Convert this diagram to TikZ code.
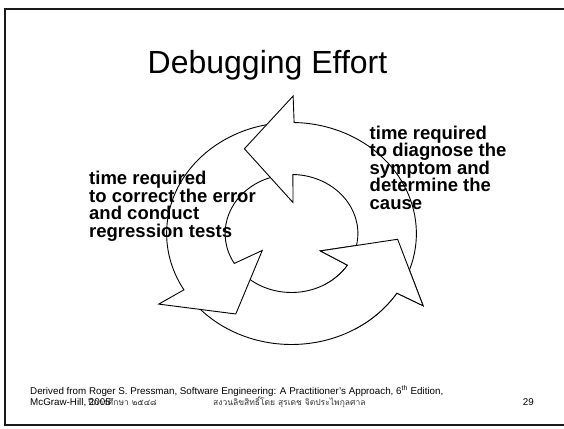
\documentclass[tikz,border=0pt]{standalone}
\usepackage{fontspec}
\setmainfont{Liberation Sans}
\newfontfamily\thaifont[Script=Thai]{Loma}

% Ring segment with a triangular head, travelling counterclockwise.
% #1 tail angle, #2 base angle, #3 outer barb angle, #4 inner barb angle, #5 tip angle
\newcommand{\ringarrow}[5]{%
  (#1:59) -- (#1:111) arc[start angle=#1, end angle=#2, radius=111]
  -- (#3:137.5) -- (#5:94.5) -- (#4:31) -- (#2:59)
  arc[start angle=#2, end angle=#1, radius=59] -- cycle}

\tikzset{
  cyclearrow/.style={draw=black, fill=white, line width=0.9pt, line join=miter},
  frameline/.style={line width=1.8pt, draw=black!90},
  sidenote/.style={anchor=north west, inner sep=0pt, align=left,
    font=\bfseries\fontsize{18.5}{17.6}\selectfont},
  footnote/.style={inner sep=0pt, font=\fontsize{9.8}{11}\selectfont},
  thainote/.style={inner sep=0pt, font=\thaifont\fontsize{8.5}{10}\selectfont, text=black!80}
}

\begin{document}
\begin{tikzpicture}[x=1pt,y=1pt]
\useasboundingbox (0,0) rectangle (564,428);

% slide frame, open on the right
\draw[frameline] (564,419.3) -- (5,419.3) -- (5,3) -- (564,3);

% title
\node[anchor=base, inner sep=0pt, font=\fontsize{32}{36}\selectfont] (title) at (267.5,354) {Debugging Effort};

% three arrows around the ring (the ring is slightly wider than tall)
\begin{scope}[shift={(291.5,194.5)}, xscale=1.125]
  \filldraw[cyclearrow] \ringarrow{216.5}{327.5}{328.3}{325.8}{356.5};
  \filldraw[cyclearrow] \ringarrow{93.5}{210.5}{210.9}{213.1}{238.4};
  \filldraw[cyclearrow] \ringarrow{-27.5}{88.8}{89.4}{87.5}{116.3};
  % the lower right head lies over the tail of the top arrow
  \begin{scope}
    \clip (0,0) -- (300:170) arc[start angle=300, end angle=375, radius=170] -- cycle;
    \filldraw[cyclearrow] \ringarrow{216.5}{327.5}{328.3}{325.8}{356.5};
  \end{scope}
\end{scope}

% labels beside the cycle
\node[sidenote] (fix) at (89,257.2) {time required\\to correct the error\\and conduct\\regression tests};
\node[sidenote] (diag) at (369.5,302.5) {time required\\to diagnose the\\symptom and\\determine the\\cause};

% footer
\node[footnote, anchor=base west] (src) at (30,33.5) {Derived from Roger S. Pressman, Software Engineering: A Practitioner's Approach, 6\textsuperscript{th} Edition,};
\node[thainote, anchor=base east] (term) at (157,22.7) {ปีการศึกษา ๒๕๔๘};
\node[footnote, anchor=base west] (pub) at (30,22.7) {McGraw-Hill, 2005};
\node[thainote, anchor=base west] (copy) at (213,22.7) {สงวนลิขสิทธิ์โดย สุรเดช จิตประไพกุลศาล};
\node[footnote, anchor=base east] (page) at (534,22.7) {29};
\end{tikzpicture}
\end{document}
